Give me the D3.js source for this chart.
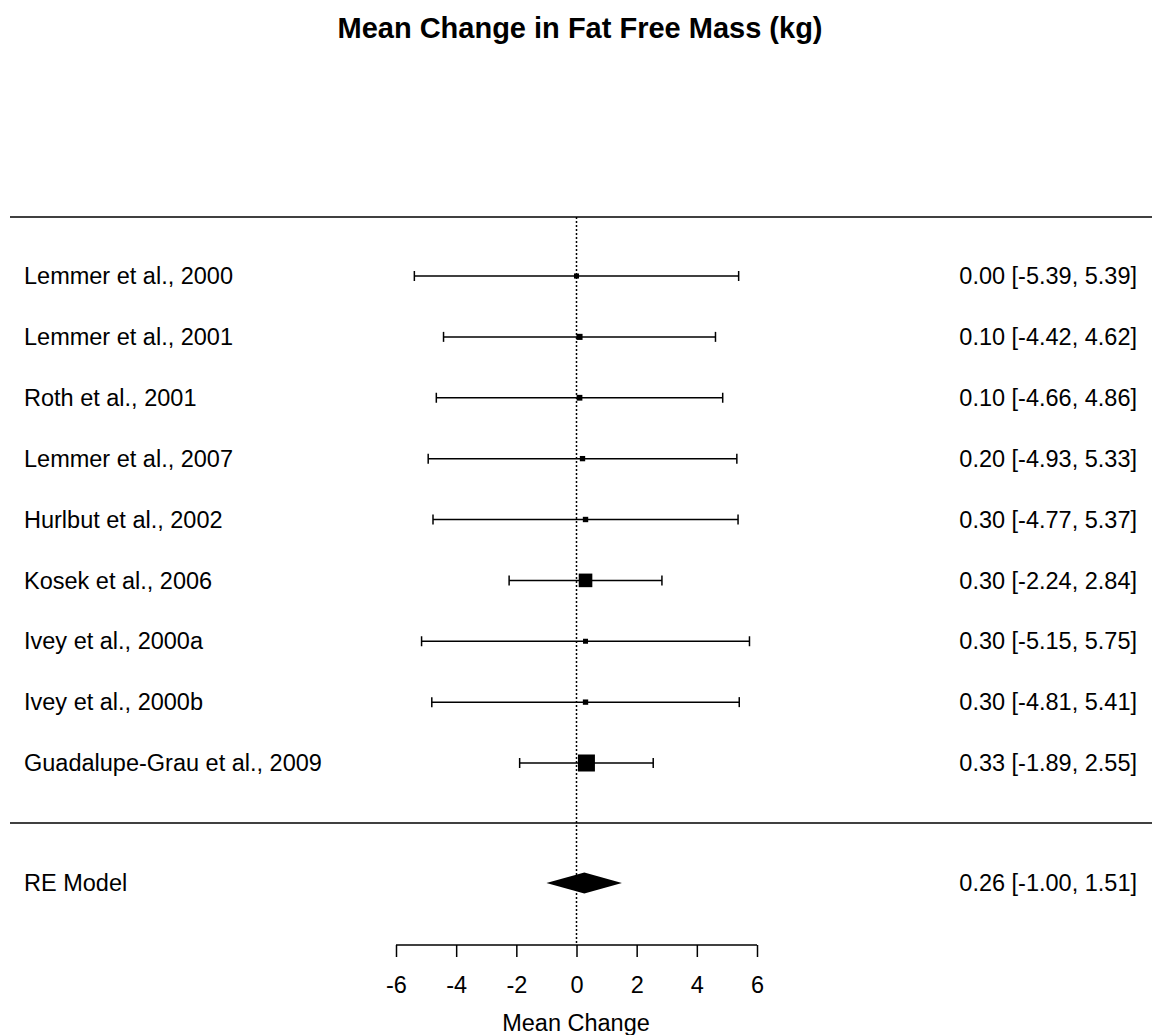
<!DOCTYPE html>
<html>
<head>
<meta charset="utf-8">
<style>
html, body { margin:0; padding:0; background:#fff; }
svg { display:block; font-family: "Liberation Sans", Arial, sans-serif; }
</style>
</head>
<body>
<svg width="1154" height="1035"></svg>
<script src="https://d3js.org/d3.v7.min.js"></script>
<script>
var studies = ["Lemmer et al., 2000", "Lemmer et al., 2001", "Roth et al., 2001", "Lemmer et al., 2007",
  "Hurlbut et al., 2002", "Kosek et al., 2006", "Ivey et al., 2000a", "Ivey et al., 2000b",
  "Guadalupe-Grau et al., 2009"];
var est = [0.00, 0.10, 0.10, 0.20, 0.30, 0.30, 0.30, 0.30, 0.33];
var lower = [-5.39, -4.42, -4.66, -4.93, -4.77, -2.24, -5.15, -4.81, -1.89];
var upper = [5.39, 4.62, 4.86, 5.33, 5.37, 2.84, 5.75, 5.41, 2.55];
var model = {label: "RE Model", est: 0.26, lower: -1.00, upper: 1.51};
var ticks = [-6, -4, -2, 0, 2, 4, 6];

var svg = d3.select("svg");
var x = d3.scaleLinear().domain([-6, 6]).range([396, 757]);
// row positions: studies top to bottom, then model
var y = d3.scaleLinear().domain([0, 8]).range([276, 763]);
var yModel = 883;

var fs = "23.5px";
var sw = 1.5;

// weights from CI (inverse variance), square size from weight
var w = lower.map(function(l, i) { var se = (upper[i] - l) / 3.92; return 1 / (se * se); });
var sz = d3.scaleLinear().domain(d3.extent(w)).range([5, 17]);

svg.append("text")
  .attr("x", 580).attr("y", 38)
  .attr("text-anchor", "middle")
  .attr("font-weight", "bold")
  .attr("font-size", "29px")
  .text("Mean Change in Fat Free Mass (kg)");

// horizontal rules
[217, 823].forEach(function(yy) {
  svg.append("line").attr("x1", 10).attr("x2", 1152).attr("y1", yy).attr("y2", yy)
    .attr("stroke", "#000").attr("stroke-width", sw);
});

// reference line
svg.append("line")
  .attr("x1", x(0)).attr("x2", x(0)).attr("y1", 217).attr("y2", 945)
  .attr("stroke", "#000").attr("stroke-width", sw).attr("stroke-dasharray", "2,2");

var rows = svg.append("g").selectAll("g").data(studies).enter().append("g");

rows.append("line")
  .attr("x1", function(d, i) { return x(lower[i]); })
  .attr("x2", function(d, i) { return x(upper[i]); })
  .attr("y1", function(d, i) { return y(i); })
  .attr("y2", function(d, i) { return y(i); })
  .attr("stroke", "#000").attr("stroke-width", sw);

[lower, upper].forEach(function(arr) {
  rows.append("line")
    .attr("x1", function(d, i) { return x(arr[i]); })
    .attr("x2", function(d, i) { return x(arr[i]); })
    .attr("y1", function(d, i) { return y(i) - 5; })
    .attr("y2", function(d, i) { return y(i) + 5; })
    .attr("stroke", "#000").attr("stroke-width", sw);
});

rows.append("rect")
  .attr("x", function(d, i) { return x(est[i]) - sz(w[i]) / 2; })
  .attr("y", function(d, i) { return y(i) - sz(w[i]) / 2; })
  .attr("width", function(d, i) { return sz(w[i]); })
  .attr("height", function(d, i) { return sz(w[i]); })
  .attr("fill", "#000");

rows.append("text")
  .attr("x", 24).attr("y", function(d, i) { return y(i); })
  .attr("dy", "0.35em").attr("font-size", fs)
  .text(function(d) { return d; });

rows.append("text")
  .attr("x", 1137).attr("y", function(d, i) { return y(i); })
  .attr("dy", "0.35em").attr("font-size", fs).attr("text-anchor", "end")
  .text(function(d, i) { return est[i].toFixed(2) + " [" + lower[i].toFixed(2) + ", " + upper[i].toFixed(2) + "]"; });

// summary diamond
svg.append("path")
  .attr("d", "M" + x(model.lower) + "," + yModel +
    "L" + x(model.est) + "," + (yModel - 10.5) +
    "L" + x(model.upper) + "," + yModel +
    "L" + x(model.est) + "," + (yModel + 10.5) + "Z")
  .attr("fill", "#000");

svg.append("text")
  .attr("x", 24).attr("y", yModel).attr("dy", "0.35em").attr("font-size", fs)
  .text(model.label);
svg.append("text")
  .attr("x", 1137).attr("y", yModel).attr("dy", "0.35em").attr("font-size", fs)
  .attr("text-anchor", "end")
  .text(model.est.toFixed(2) + " [" + model.lower.toFixed(2) + ", " + model.upper.toFixed(2) + "]");

// x axis
var ax = svg.append("g")
  .attr("transform", "translate(0,945)")
  .call(d3.axisBottom(x).tickValues(ticks).tickSize(12).tickPadding(19).tickFormat(d3.format("d")));
ax.select(".domain").attr("stroke-width", sw).attr("d", "M" + x(-6) + ",0H" + x(6));
ax.selectAll(".tick line").attr("stroke-width", sw);
ax.selectAll(".tick text").attr("font-size", fs).attr("font-family", "Liberation Sans, Arial, sans-serif")
  .text(function(d) { return d < 0 ? "-" + Math.abs(d) : d; });

svg.append("text")
  .attr("x", 576).attr("y", 1031).attr("text-anchor", "middle").attr("font-size", fs)
  .text("Mean Change");
</script>
</body>
</html>
